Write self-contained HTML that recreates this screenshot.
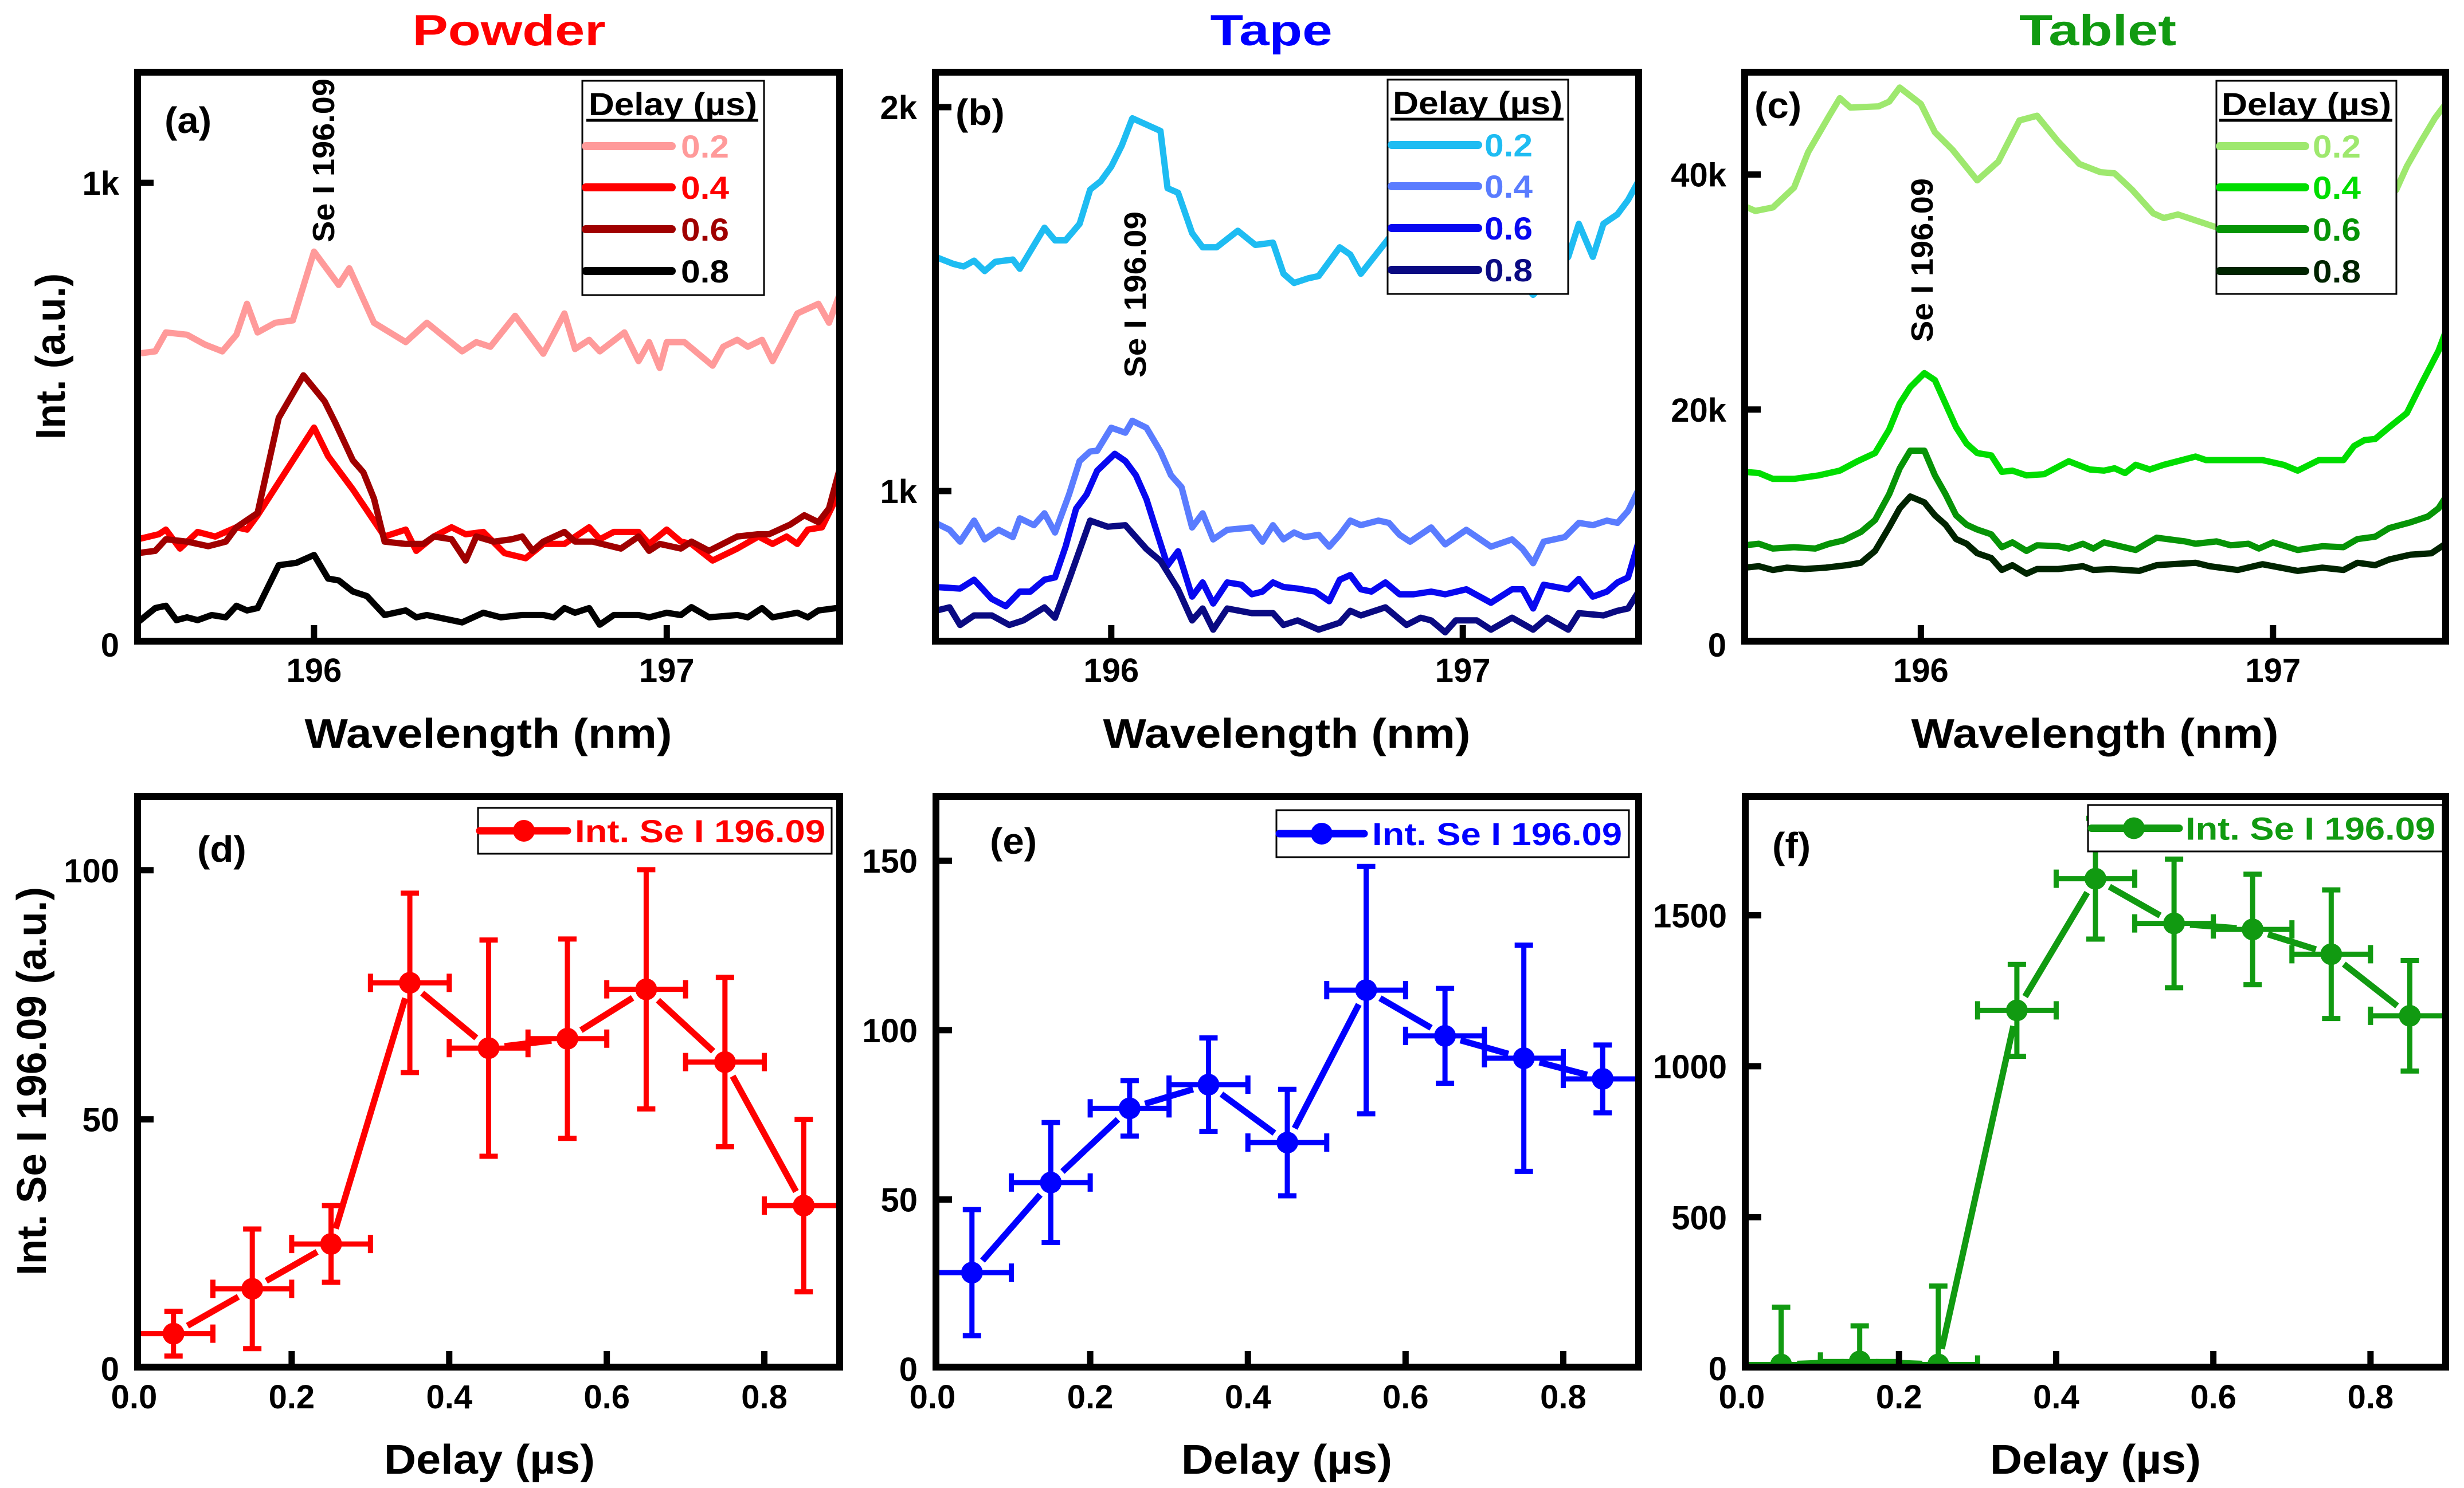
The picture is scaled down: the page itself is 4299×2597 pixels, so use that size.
<!DOCTYPE html>
<html><head><meta charset="utf-8">
<style>
html,body{margin:0;padding:0;background:#fff;}
svg{display:block;font-family:"Liberation Sans",Arial,sans-serif;font-weight:bold;}
</style></head>
<body>
<svg id="fig" width="4299" height="2597" viewBox="0 0 4299 2597" xmlns="http://www.w3.org/2000/svg"></svg>
<script>
// ---------------- DATA ----------------
const powderWl02=[195.50,195.55,195.58,195.64,195.69,195.74,195.78,195.81,195.84,195.89,195.94,196.00,196.07,196.10,196.17,196.26,196.32,196.42,196.46,196.50,196.57,196.65,196.71,196.74,196.78,196.81,196.88,196.92,196.95,196.98,197.00,197.05,197.13,197.16,197.20,197.23,197.27,197.30,197.37,197.43,197.46,197.50];
const powderInt02=[630,635,676,671,650,635,671,738,676,697,702,851,779,815,697,655,697,635,655,645,712,630,717,640,660,635,676,614,655,599,655,655,604,645,660,645,660,614,717,738,697,779];
const powderWl04=[195.50,195.56,195.58,195.62,195.67,195.72,195.78,195.81,195.84,196.00,196.04,196.11,196.20,196.26,196.29,196.34,196.39,196.43,196.48,196.54,196.60,196.65,196.71,196.78,196.81,196.85,196.92,196.95,197.00,197.04,197.07,197.13,197.20,197.26,197.30,197.34,197.37,197.40,197.44,197.50];
const powderInt04=[228,239,249,208,244,234,254,249,280,470,408,336,234,249,203,234,254,239,244,198,187,218,218,254,228,244,244,218,249,223,218,182,208,234,218,234,218,249,254,347];
const powderWl06=[195.50,195.55,195.58,195.64,195.70,195.75,195.78,195.84,195.90,195.97,196.03,196.06,196.11,196.14,196.17,196.20,196.26,196.31,196.34,196.39,196.43,196.46,196.51,196.56,196.59,196.62,196.65,196.71,196.74,196.79,196.87,196.92,196.95,196.98,197.04,197.07,197.12,197.20,197.26,197.29,197.35,197.39,197.43,197.46,197.50];
const powderInt06=[198,203,228,223,213,223,254,285,491,583,527,481,399,373,316,223,218,218,234,228,182,234,223,228,234,203,223,244,223,223,208,234,203,218,208,223,203,234,239,239,260,280,265,295,408];
const powderWl08=[195.50,195.55,195.58,195.61,195.64,195.67,195.71,195.75,195.78,195.81,195.84,195.90,195.95,196.00,196.04,196.07,196.11,196.15,196.20,196.26,196.29,196.32,196.42,196.48,196.53,196.59,196.65,196.68,196.71,196.74,196.78,196.81,196.85,196.92,196.95,197.00,197.04,197.07,197.12,197.20,197.23,197.27,197.30,197.37,197.40,197.43,197.50];
const powderInt08=[48,79,84,53,59,53,64,59,84,74,79,172,177,194,143,139,115,105,64,74,59,64,48,69,59,64,64,59,79,69,79,43,64,64,59,69,64,81,59,64,59,79,59,69,59,74,81];

const tapeWl02=[195.50,195.55,195.58,195.61,195.64,195.67,195.72,195.74,195.81,195.84,195.87,195.91,195.94,195.97,196.00,196.03,196.06,196.14,196.16,196.19,196.23,196.26,196.30,196.36,196.41,196.46,196.49,196.52,196.56,196.59,196.65,196.68,196.71,196.79,196.90,197.00,197.10,197.20,197.30,197.33,197.37,197.40,197.44,197.47,197.50];
const tapeInt02=[1610,1592,1585,1600,1573,1597,1603,1579,1686,1653,1653,1696,1785,1807,1845,1900,1971,1938,1789,1777,1672,1635,1635,1678,1641,1647,1566,1542,1554,1560,1635,1616,1566,1659,1700,1680,1620,1511,1610,1696,1610,1696,1721,1758,1808];
const tapeWl04=[195.50,195.54,195.57,195.61,195.64,195.68,195.72,195.74,195.78,195.81,195.84,195.88,195.91,195.94,195.96,196.00,196.04,196.06,196.10,196.14,196.17,196.20,196.23,196.26,196.29,196.33,196.40,196.43,196.46,196.49,196.52,196.55,196.59,196.62,196.65,196.68,196.71,196.76,196.79,196.82,196.85,196.91,196.95,197.01,197.08,197.14,197.17,197.20,197.23,197.29,197.33,197.37,197.41,197.44,197.47,197.50];
const tapeInt04=[917,899,868,923,874,899,880,929,911,942,892,991,1078,1103,1105,1165,1152,1183,1165,1103,1041,1010,905,942,874,899,905,868,911,874,892,880,886,855,886,923,911,923,917,886,868,905,861,899,855,874,849,812,868,880,917,911,923,917,948,1004];
const tapeWl06=[195.50,195.57,195.61,195.66,195.70,195.74,195.77,195.81,195.84,195.87,195.90,195.93,195.96,196.01,196.04,196.07,196.10,196.13,196.16,196.19,196.23,196.26,196.29,196.33,196.37,196.40,196.43,196.46,196.49,196.53,196.58,196.62,196.65,196.68,196.71,196.74,196.78,196.82,196.86,196.91,196.95,197.01,197.08,197.14,197.17,197.20,197.23,197.30,197.33,197.37,197.41,197.44,197.47,197.50];
const tapeInt06=[750,746,769,719,700,738,738,769,775,855,954,991,1053,1097,1078,1041,979,892,806,843,725,762,707,762,756,731,738,762,750,746,738,713,769,781,744,738,762,731,731,738,731,744,709,744,744,694,756,744,771,725,738,762,775,868];
const tapeWl08=[195.50,195.54,195.57,195.61,195.66,195.71,195.75,195.81,195.84,195.88,195.94,195.99,196.04,196.10,196.14,196.19,196.23,196.26,196.29,196.33,196.40,196.46,196.49,196.53,196.59,196.65,196.68,196.71,196.78,196.84,196.88,196.91,196.95,196.98,197.04,197.08,197.14,197.20,197.24,197.30,197.33,197.40,197.44,197.47,197.50];
const tapeInt08=[688,697,651,676,676,651,663,697,670,769,923,907,911,849,818,744,663,694,639,694,682,682,651,663,639,657,688,676,697,651,670,663,632,663,663,639,670,639,670,639,682,676,688,694,738];

const tabletWl02=[195.50,195.53,195.58,195.64,195.68,195.74,195.77,195.80,195.88,195.91,195.94,196.00,196.04,196.09,196.16,196.22,196.28,196.33,196.39,196.45,196.51,196.55,196.60,196.66,196.69,196.73,196.78,196.82,196.84,196.99,197.14,197.29,197.35,197.38,197.42,197.46,197.50];
const tabletInt02=[37300,36900,37200,38900,41900,45000,46500,45700,45800,46200,47400,46000,43600,42100,39500,41100,44600,45000,42800,40900,40200,40100,38700,36700,36300,36600,36100,35700,35500,35900,36300,37100,38700,40700,42800,44800,46400];
const tabletWl04=[195.50,195.54,195.58,195.64,195.71,195.77,195.82,195.87,195.91,195.94,195.97,196.01,196.04,196.10,196.13,196.16,196.20,196.23,196.26,196.30,196.35,196.42,196.48,196.52,196.55,196.58,196.61,196.65,196.69,196.78,196.81,196.90,196.97,197.03,197.07,197.13,197.20,197.23,197.26,197.29,197.33,197.38,197.42,197.47,197.50];
const tabletInt04=[14700,14600,14100,14100,14400,14800,15600,16300,18300,20500,21900,23100,22500,18500,17100,16300,16100,14700,14800,14400,14500,15600,14900,14800,15000,14600,15300,14900,15300,16000,15700,15700,15700,15300,14800,15700,15700,16900,17400,17500,18500,19700,22100,25000,27400];
const tabletWl06=[195.50,195.54,195.58,195.64,195.70,195.74,195.78,195.83,195.87,195.91,195.94,195.97,196.01,196.04,196.07,196.10,196.13,196.16,196.20,196.23,196.26,196.30,196.33,196.39,196.42,196.46,196.49,196.52,196.61,196.67,196.75,196.78,196.84,196.88,196.93,196.96,197.00,197.07,197.14,197.20,197.24,197.29,197.33,197.39,197.44,197.47,197.50];
const tabletInt06=[8450,8580,8170,8290,8170,8580,8860,9590,10600,12800,15000,16500,16500,14400,12800,11000,10200,9790,9380,8290,8700,7970,8450,8370,8170,8580,8170,8700,8050,9100,8780,8580,8780,8450,8580,8170,8700,8050,8370,8290,8980,9180,9910,10400,10900,11600,13000];
const tabletWl08=[195.50,195.54,195.58,195.62,195.67,195.73,195.79,195.83,195.87,195.91,195.94,195.97,196.01,196.04,196.07,196.10,196.13,196.16,196.20,196.23,196.26,196.30,196.33,196.39,196.46,196.49,196.54,196.62,196.67,196.78,196.82,196.90,196.97,197.07,197.14,197.20,197.24,197.29,197.33,197.39,197.45,197.50];
const tabletInt08=[6550,6670,6350,6550,6430,6550,6760,6960,7970,9990,11600,12600,12100,11000,10200,8980,8580,7770,7360,6350,6760,6030,6430,6430,6670,6350,6430,6270,6760,6960,6670,6350,6840,6270,6550,6350,6960,6760,7240,7650,7770,8780];

const delays=[0.05,0.15,0.25,0.35,0.45,0.55,0.65,0.75,0.85];
const delayErr=[0.05,0.05,0.05,0.05,0.05,0.05,0.05,0.05,0.05];
const powderSe=[7,16,25,77.4,64.3,66.2,76.1,61.5,32.7];
const powderSeErr=[4.5,12,7.7,18,21.7,20,24,17,17.3];
const tapeSe=[28.4,55,76.9,83.9,66.8,111.8,98.3,91.7,85.6];
const tapeSeErr=[18.6,17.7,8.2,13.8,15.7,36.5,14,33.4,10];
const tabletSe=[12,22,12,1185,1621,1473,1453,1371,1167];
const tabletSeErr=[190,118,260,152,200,213,183,213,183];

const ticksA=[0,1000], ticksALbl=['0','1k'];
const ticksB=[1000,2000], ticksBLbl=['1k','2k'];
const ticksC=[0,20000,40000], ticksCLbl=['0','20k','40k'];
const ticksWl=[196,197], ticksWlLbl=['196','197'];
const ticksD=[0,50,100], ticksDLbl=['0','50','100'];
const ticksE=[0,50,100,150], ticksELbl=['0','50','100','150'];
const ticksF=[0,500,1000,1500], ticksFLbl=['0','500','1000','1500'];
const ticksDelay=[0,0.2,0.4,0.6,0.8], ticksDelayLbl=['0.0','0.2','0.4','0.6','0.8'];

// ---------------- DRAWING ----------------
const NS='http://www.w3.org/2000/svg';
const svg=document.getElementById('fig');
function el(tag,attrs,parent){const e=document.createElementNS(NS,tag);for(const k in attrs)e.setAttribute(k,attrs[k]);(parent||svg).appendChild(e);return e;}
function txt(s,x,y,fs,fill,anchor,parent,stretch,len){
  const t=el('text',{x:x,y:y,'font-size':fs,fill:fill||'#000','text-anchor':anchor||'middle'},parent);
  t.textContent=s;
  if(len){t.setAttribute('textLength',len);t.setAttribute('lengthAdjust','spacingAndGlyphs');}
  else if(stretch){const w=t.getComputedTextLength();t.setAttribute('textLength',w*stretch);t.setAttribute('lengthAdjust','spacingAndGlyphs');}
  return t;
}
function sx(p,v){return p.L+(v-p.x0)/(p.x1-p.x0)*(p.R-p.L);}
function sy(p,v){return p.B-(v-p.y0)/(p.y1-p.y0)*(p.B-p.T);}

const pa={id:'a',L:234,R:1471,T:120,B:1125,x0:195.49,x1:197.5,y0:0,y1:1247};
const pb={id:'b',L:1626,R:2865,T:120,B:1125,x0:195.49,x1:197.51,y0:600,y1:2100};
const pc={id:'c',L:3038,R:4273,T:120,B:1125,x0:195.49,x1:197.5,y0:0,y1:49000};
const pd={id:'d',L:234,R:1471,T:1384,B:2392,x0:0,x1:0.9,y0:-0.4,y1:115.5};
const pe={id:'e',L:1627,R:2865,T:1384,B:2392,x0:0,x1:0.9,y0:-0.5,y1:170};
const pf={id:'f',L:3039,R:4273,T:1384,B:2392,x0:0,x1:0.9,y0:-8,y1:1905};

function panelBase(p,name){
  const g=el('g',{});
  
  
  const cp=el('clipPath',{id:'clip'+p.id},g);
  el('rect',{x:p.L+10,y:p.T+10,width:p.R-p.L-20,height:p.B-p.T-20},cp);
  const plot=el('g',{'clip-path':'url(#clip'+p.id+')'},g);
  
  
  return {g:g,plot:plot};
}
function frame(p,g){
  const r=el('rect',{x:p.L+6,y:p.T+6,width:p.R-p.L-12,height:p.B-p.T-12,fill:'none',stroke:'#000','stroke-width':12},g);
  
  
}
function yTicks(p,g,vals,lbls){
  vals.forEach((v,i)=>{
    const y=sy(p,v);
    if(y<p.B-12){const l=el('line',{x1:p.L+5,y1:y,x2:p.L+34,y2:y,stroke:'#000','stroke-width':11},g);
      
      }
    const t=txt(lbls[i],p.L-26,y+21,58,'#000','end',g,null);
    
    
  });
}
function xTicks(p,g,vals,lbls,ly){
  vals.forEach((v,i)=>{
    const x=sx(p,v);
    if(x>p.L+12){const l=el('line',{x1:x,y1:p.B-5,x2:x,y2:p.B-34,stroke:'#000','stroke-width':11},g);
      
      }
    const t=txt(lbls[i],x,ly,58,'#000','middle',g,null);
    
    
  });
}
function spectrum(p,plot,wl,vals,color,name){
  let d='';
  wl.forEach((w,i)=>{d+=(i?'L':'M')+sx(p,w).toFixed(1)+' '+sy(p,vals[i]).toFixed(1);});
  const path=el('path',{d:d,fill:'none',stroke:color,'stroke-width':11,'stroke-linejoin':'round','stroke-linecap':'round'},plot);
  
  
}
function annot(x,cy,len,g){
  const t=el('text',{x:0,y:0,'font-size':54,fill:'#000','text-anchor':'middle',transform:'translate('+x+','+cy+') rotate(-90)',textLength:len,lengthAdjust:'spacingAndGlyphs'},g);
  t.textContent='Se I 196.09';
  
  
}
function spLegend(g,bx,by,bw,bh,hx,hw,lx1,lx2,tx,colors,labels){
  const lg=el('g',{},g);
  
  
  el('rect',{x:bx,y:by,width:bw,height:bh,fill:'#fff',stroke:'#000','stroke-width':3},lg);
  const h=txt('Delay (µs)',hx,by+60,56,'#000','start',lg,null,hw);
  
  
  el('line',{x1:hx-4,y1:by+69,x2:hx+hw+2,y2:by+69,stroke:'#000','stroke-width':5},lg);
  const ys=[by+114,by+186,by+259,by+332];
  labels.forEach((lab,i)=>{
    const e=el('g',{},lg);
    
    
    el('line',{x1:lx1,y1:ys[i],x2:lx2,y2:ys[i],stroke:colors[i],'stroke-width':14,'stroke-linecap':'round'},e);
    txt(lab,tx,ys[i]+20,56,colors[i],'start',e,null,84);
  });
}
function delayPanel(p,plot,g,ys,yerr,color){
  const pts=delays.map((d,i)=>[sx(p,d),sy(p,ys[i])]);
  for(let i=0;i<pts.length-1;i++){
    const [x1,y1]=pts[i],[x2,y2]=pts[i+1];
    const L=Math.hypot(x2-x1,y2-y1);const gap=28;
    if(L>2*gap){const ux=(x2-x1)/L,uy=(y2-y1)/L;
      const s=el('line',{x1:x1+ux*gap,y1:y1+uy*gap,x2:x2-ux*gap,y2:y2-uy*gap,stroke:color,'stroke-width':11},plot);
      
      }
  }
  delays.forEach((d,i)=>{
    const eg=el('g',{},plot);
    
    
    const x=sx(p,d),y=sy(p,ys[i]);
    const yt=sy(p,ys[i]+yerr[i]),yb=sy(p,ys[i]-yerr[i]);
    const xl=sx(p,d-delayErr[i]),xr=sx(p,d+delayErr[i]);
    const a={stroke:color,'stroke-width':9};
    el('line',Object.assign({x1:x,y1:yt,x2:x,y2:yb},a),eg);
    el('line',Object.assign({x1:x-16,y1:yt,x2:x+16,y2:yt},a),eg);
    el('line',Object.assign({x1:x-16,y1:yb,x2:x+16,y2:yb},a),eg);
    el('line',Object.assign({x1:xl,y1:y,x2:xr,y2:y},a),eg);
    el('line',Object.assign({x1:xl,y1:y-16,x2:xl,y2:y+16},a),eg);
    el('line',Object.assign({x1:xr,y1:y-16,x2:xr,y2:y+16},a),eg);
    el('circle',{cx:x,cy:y,r:19,fill:color},eg);
  });
}
function dLegend(g,bx,by,bw,bh,lx1,lx2,mx,tx,tlen,color){
  const lg=el('g',{},g);
  
  
  el('rect',{x:bx,y:by,width:bw,height:bh,fill:'#fff',stroke:'#000','stroke-width':3},lg);
  const cy=by+bh/2;
  el('line',{x1:lx1,y1:cy,x2:lx2,y2:cy,stroke:color,'stroke-width':13,'stroke-linecap':'round'},lg);
  el('circle',{cx:mx,cy:cy,r:19,fill:color},lg);
  const t=txt('Int. Se I 196.09',tx,cy+20,56,color,'start',lg,null,tlen);
  
  
}
function label(s,x,y,g){
  const t=txt(s,x,y,64,'#000','start',g,1.05);
  
  
}

[['Powder',888,'#ff0000'],['Tape',2218,'#0000ff'],['Tablet',3660,'#119a11']].forEach(([s,x,c])=>{
  const t=txt(s,x,79,76,c,'middle',svg,null,s==='Powder'?337:(s==='Tape'?213:274));
  
  
});

let P=panelBase(pa,'panel-a-powder-spectra');
spectrum(pa,P.plot,powderWl02,powderInt02,'#ff9a9a','series-0.2');
spectrum(pa,P.plot,powderWl04,powderInt04,'#ff0000','series-0.4');
spectrum(pa,P.plot,powderWl06,powderInt06,'#a00000','series-0.6');
spectrum(pa,P.plot,powderWl08,powderInt08,'#000000','series-0.8');
frame(pa,P.g);yTicks(pa,P.g,ticksA,ticksALbl);xTicks(pa,P.g,ticksWl,ticksWlLbl,1190);
annot(583,280,286,P.g);label('(a)',287,232,P.g);
spLegend(P.g,1016,141,317,374,1027,294,1022,1172,1188,['#ff9a9a','#ff0000','#a00000','#000'],['0.2','0.4','0.6','0.8']);

P=panelBase(pb,'panel-b-tape-spectra');
spectrum(pb,P.plot,tapeWl02,tapeInt02,'#1ebcf2','series-0.2');
spectrum(pb,P.plot,tapeWl04,tapeInt04,'#5a7cff','series-0.4');
spectrum(pb,P.plot,tapeWl06,tapeInt06,'#0808f0','series-0.6');
spectrum(pb,P.plot,tapeWl08,tapeInt08,'#0a0a82','series-0.8');
frame(pb,P.g);yTicks(pb,P.g,ticksB,ticksBLbl);xTicks(pb,P.g,ticksWl,ticksWlLbl,1190);
annot(1999,514,290,P.g);label('(b)',1667,218,P.g);
spLegend(P.g,2421,139,315,374,2430,296,2428,2579,2590,['#1ebcf2','#5a7cff','#0808f0','#0a0a82'],['0.2','0.4','0.6','0.8']);

P=panelBase(pc,'panel-c-tablet-spectra');
spectrum(pc,P.plot,tabletWl02,tabletInt02,'#9ee86e','series-0.2');
spectrum(pc,P.plot,tabletWl04,tabletInt04,'#00dd00','series-0.4');
spectrum(pc,P.plot,tabletWl06,tabletInt06,'#069406','series-0.6');
spectrum(pc,P.plot,tabletWl08,tabletInt08,'#002400','series-0.8');
frame(pc,P.g);yTicks(pc,P.g,ticksC,ticksCLbl);xTicks(pc,P.g,ticksWl,ticksWlLbl,1190);
annot(3372,454,286,P.g);label('(c)',3061,206,P.g);
spLegend(P.g,3867,141,314,372,3876,296,3873,4022,4035,['#9ee86e','#00dd00','#069406','#002400'],['0.2','0.4','0.6','0.8']);

P=panelBase(pd,'panel-d-powder-delay');
delayPanel(pd,P.plot,P.g,powderSe,powderSeErr,'#ff0000');
frame(pd,P.g);yTicks(pd,P.g,ticksD,ticksDLbl);xTicks(pd,P.g,ticksDelay,ticksDelayLbl,2458);
label('(d)',344,1504,P.g);
dLegend(P.g,834,1410,617,80,837,990,914,1003,437,'#ff0000');

P=panelBase(pe,'panel-e-tape-delay');
delayPanel(pe,P.plot,P.g,tapeSe,tapeSeErr,'#0000ff');
frame(pe,P.g);yTicks(pe,P.g,ticksE,ticksELbl);xTicks(pe,P.g,ticksDelay,ticksDelayLbl,2458);
label('(e)',1727,1490,P.g);
dLegend(P.g,2227,1414,615,82,2232,2380,2306,2394,436,'#0000ff');

P=panelBase(pf,'panel-f-tablet-delay');
delayPanel(pf,P.plot,P.g,tabletSe,tabletSeErr,'#119a11');
frame(pf,P.g);yTicks(pf,P.g,ticksF,ticksFLbl);xTicks(pf,P.g,ticksDelay,ticksDelayLbl,2458);
label('(f)',3092,1498,P.g);
dLegend(P.g,3643,1405,619,81,3649,3802,3723,3813,436,'#119a11');

[[852,'Wavelength (nm)',1305,641],[2245,'Wavelength (nm)',1305,641],[3655,'Wavelength (nm)',1305,641],
 [854,'Delay (µs)',2572,368],[2245,'Delay (µs)',2572,368],[3656,'Delay (µs)',2572,368]].forEach(([x,s,y,len])=>{
  const t=txt(s,x,y,72,'#000','middle',svg,null,len);
  
  
});
let yt=el('text',{x:0,y:0,'font-size':72,fill:'#000','text-anchor':'middle',transform:'translate(113,622) rotate(-90)',textLength:290,lengthAdjust:'spacingAndGlyphs'});
yt.textContent='Int. (a.u.)';


yt=el('text',{x:0,y:0,'font-size':72,fill:'#000','text-anchor':'middle',transform:'translate(80,1887) rotate(-90)',textLength:678,lengthAdjust:'spacingAndGlyphs'});
yt.textContent='Int. Se I 196.09 (a.u.)';


</script>
</body></html>
